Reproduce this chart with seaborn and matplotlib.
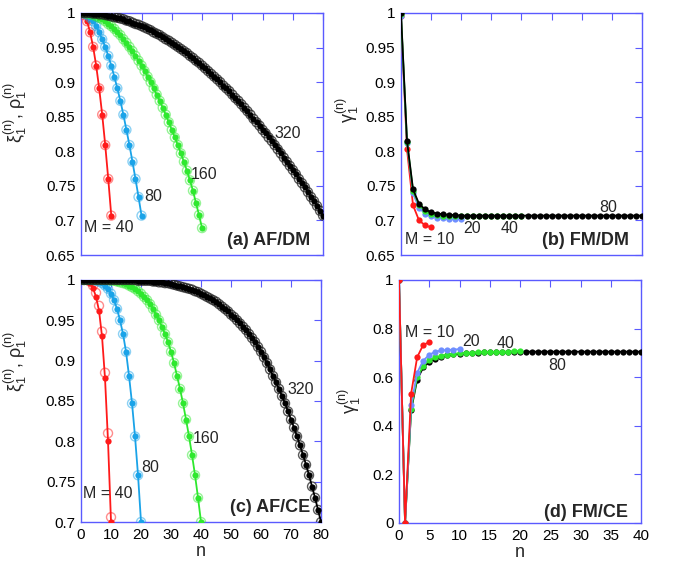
import numpy as np
import matplotlib
matplotlib.use("Agg")
import matplotlib.pyplot as plt
import seaborn as sns

# ---------------- data ----------------
# (a) AF/DM : xi_1^(n) (dots) and rho_1^(n) (open circles)
a_M40 = [1.0, 0.997, 0.988, 0.972, 0.951, 0.924, 0.891, 0.853, 0.809, 0.760, 0.707]
a_M80 = [1.0, 0.999, 0.997, 0.993, 0.988, 0.981, 0.972, 0.962, 0.951, 0.938, 0.924,
         0.908, 0.891, 0.873, 0.853, 0.831, 0.809, 0.785, 0.760, 0.734, 0.707]
a_M160 = [1.0, 1.0, 0.999, 0.998, 0.997, 0.995, 0.993, 0.991, 0.988, 0.984, 0.981,
          0.977, 0.972, 0.968, 0.962, 0.957, 0.951, 0.945, 0.938, 0.931, 0.924,
          0.916, 0.908, 0.900, 0.891, 0.882, 0.873, 0.863, 0.853, 0.842, 0.831,
          0.820, 0.809, 0.797, 0.785, 0.772, 0.758, 0.743, 0.725, 0.708, 0.689]
a_M320 = [1.0, 1.0, 1.0, 1.0, 0.999, 0.999, 0.998, 0.998, 0.997, 0.996, 0.995,
          0.994, 0.993, 0.992, 0.991, 0.989, 0.988, 0.986, 0.984, 0.983, 0.981,
          0.979, 0.977, 0.975, 0.972, 0.970, 0.968, 0.965, 0.962, 0.960, 0.957,
          0.954, 0.951, 0.948, 0.945, 0.942, 0.938, 0.935, 0.931, 0.928, 0.924,
          0.920, 0.916, 0.912, 0.908, 0.904, 0.900, 0.895, 0.891, 0.887, 0.882,
          0.877, 0.873, 0.868, 0.863, 0.858, 0.853, 0.847, 0.842, 0.837, 0.831,
          0.826, 0.820, 0.815, 0.809, 0.803, 0.797, 0.791, 0.785, 0.779, 0.773,
          0.767, 0.760, 0.754, 0.748, 0.741, 0.734, 0.728, 0.721, 0.714, 0.707]

# (b) FM/DM : gamma_1^(n)
b_M10 = [0.995, 0.803, 0.722, 0.700, 0.693, 0.690]
b_M20 = [0.995, 0.812, 0.739, 0.718, 0.710, 0.706, 0.704, 0.703, 0.702, 0.702, 0.702]
b_M40 = [0.998, 0.814, 0.743, 0.722, 0.714, 0.710, 0.708, 0.707, 0.707, 0.706, 0.706,
         0.706, 0.706, 0.706, 0.706, 0.706, 0.706, 0.706, 0.706, 0.706, 0.706]
b_M80 = [1.0, 0.815, 0.745, 0.724, 0.716, 0.712, 0.710, 0.709, 0.708, 0.708, 0.707,
         0.707, 0.707, 0.707, 0.707, 0.707, 0.707, 0.707, 0.707, 0.707, 0.707,
         0.707, 0.707, 0.707, 0.707, 0.707, 0.707, 0.707, 0.707, 0.707, 0.707,
         0.707, 0.707, 0.707, 0.707, 0.707, 0.707, 0.707, 0.707, 0.707, 0.707]

# (c) AF/CE : xi_1^(n) (dots) and rho_1^(n) (open circles)
c_M40_xi = [1.0, 1.0, 0.999, 0.996, 0.990, 0.979, 0.962, 0.930, 0.878, 0.800, 0.700]
c_M40_rho = [1.0, 1.0, 1.0, 0.998, 0.993, 0.984, 0.968, 0.936, 0.885, 0.810, 0.706]
c_M80 = [1.0, 1.0, 1.0, 1.0, 1.0, 0.999, 0.998, 0.996, 0.993, 0.989, 0.983,
         0.975, 0.964, 0.950, 0.933, 0.911, 0.881, 0.847, 0.806, 0.758, 0.700]
c_M160 = [1.0, 1.0, 1.0, 1.0, 1.0, 1.0, 1.0, 1.0, 1.0, 1.0, 0.999,
          0.999, 0.998, 0.997, 0.996, 0.995, 0.993, 0.991, 0.989, 0.986, 0.983,
          0.979, 0.975, 0.970, 0.964, 0.957, 0.950, 0.942, 0.933, 0.923, 0.911,
          0.897, 0.881, 0.865, 0.847, 0.827, 0.806, 0.783, 0.758, 0.730, 0.700]
c_M320 = [1.0, 1.0, 1.0, 1.0, 1.0, 1.0, 1.0, 1.0, 1.0, 1.0, 1.0,
          1.0, 1.0, 1.0, 1.0, 1.0, 1.0, 1.0, 1.0, 0.999, 0.999,
          0.999, 0.999, 0.999, 0.998, 0.998, 0.997, 0.997, 0.996, 0.996, 0.995,
          0.994, 0.993, 0.992, 0.991, 0.990, 0.989, 0.988, 0.986, 0.985, 0.983,
          0.981, 0.979, 0.977, 0.975, 0.973, 0.970, 0.967, 0.964, 0.961, 0.957,
          0.954, 0.950, 0.946, 0.942, 0.938, 0.933, 0.928, 0.923, 0.917, 0.911,
          0.904, 0.897, 0.889, 0.881, 0.873, 0.865, 0.856, 0.847, 0.837, 0.827,
          0.817, 0.806, 0.795, 0.783, 0.771, 0.758, 0.744, 0.730, 0.715, 0.700]

# (d) FM/CE : gamma_1^(n)
d_M10 = [1.0, 0.0, 0.532, 0.682, 0.733, 0.744]
d_M20 = [1.0, 0.0, 0.484, 0.618, 0.668, 0.692, 0.705, 0.710, 0.712, 0.713, 0.716]
d_M40 = [1.0, 0.0, 0.470, 0.600, 0.646, 0.670, 0.681, 0.688, 0.693, 0.696, 0.698,
         0.700, 0.701, 0.702, 0.703, 0.704, 0.704, 0.705, 0.705, 0.706, 0.707]
d_M80 = [1.0, 0.0, 0.463, 0.590, 0.640, 0.663, 0.676, 0.684, 0.690, 0.694, 0.697,
         0.699, 0.700, 0.701, 0.702, 0.703, 0.703, 0.704, 0.704, 0.705, 0.705,
         0.705, 0.705, 0.705, 0.705, 0.705, 0.705, 0.705, 0.705, 0.705, 0.705,
         0.705, 0.705, 0.705, 0.705, 0.705, 0.705, 0.705, 0.705, 0.705, 0.705]

# tick labels
yt_a = [0.65, 0.7, 0.75, 0.8, 0.85, 0.9, 0.95, 1.0]
yl_a = ["0.65", "0.7", "0.75", "0.8", "0.85", "0.9", "0.95", "1"]
yt_c = [0.7, 0.75, 0.8, 0.85, 0.9, 0.95, 1.0]
yl_c = ["0.7", "0.75", "0.8", "0.85", "0.9", "0.95", "1"]
yt_d = [0, 0.2, 0.4, 0.6, 0.8, 1.0]
yl_d = ["0", "0.2", "0.4", "0.6", "0.8", "1"]
xt_80 = [0, 10, 20, 30, 40, 50, 60, 70, 80]
xt_40 = [0, 5, 10, 15, 20, 25, 30, 35, 40]

# ---------------- style ----------------
sns.set_style("white")
plt.rcParams["font.family"] = ["Liberation Sans", "DejaVu Sans"]
plt.rcParams["mathtext.fontset"] = "custom"
plt.rcParams["mathtext.rm"] = "Liberation Sans"
plt.rcParams["mathtext.it"] = "Liberation Sans:italic"
plt.rcParams["mathtext.default"] = "regular"

RED = "#ff1a1a"
SKY = "#1aa3e8"
LBLUE = "#6f8fff"
GREEN = "#2ee82e"
BLACK = "#000000"
SPINE = "#5a5aff"

fig = plt.figure(figsize=(6.78, 5.63), dpi=100)
fig.patch.set_facecolor("white")
ax_a = fig.add_axes([0.1195, 0.547, 0.357, 0.430])
ax_b = fig.add_axes([0.5914, 0.547, 0.3555, 0.430])
ax_c = fig.add_axes([0.1195, 0.0728, 0.354, 0.430])
ax_d = fig.add_axes([0.5885, 0.0711, 0.357, 0.4316])


def dots(ax, vals, col, z, lw=1.3, ms=4.5):
    n = np.arange(len(vals))
    sns.lineplot(x=n, y=vals, ax=ax, color=col, lw=lw, marker="o",
                 markersize=ms, markeredgewidth=0, estimator=None, sort=False,
                 zorder=z)


def rings(ax, vals, col, z, s=42, alpha=0.5):
    n = np.arange(len(vals))
    sns.scatterplot(x=n, y=vals, ax=ax, marker="o", s=s, facecolor="none",
                    edgecolor=col, linewidth=1.0, alpha=alpha, zorder=z)


def style(ax, xmax, xt, ylim, yt, yl, xlabels):
    ax.set_xlim(0, xmax)
    ax.set_ylim(*ylim)
    ax.set_xticks(xt)
    ax.set_yticks(yt)
    ax.set_yticklabels(yl)
    if xlabels:
        ax.set_xticklabels([str(v) for v in xt])
    else:
        ax.set_xticklabels([])
    ax.tick_params(direction="in", top=True, right=True, length=5, width=0.8,
                   color=SPINE, labelsize=11, pad=4, labelcolor="black")
    for sp in ax.spines.values():
        sp.set_color(SPINE)
        sp.set_linewidth(1.0)
        sp.set_visible(True)
    ax.set_facecolor("white")


# (a)
for vals, col, z in [(a_M40, RED, 3), (a_M80, SKY, 4), (a_M160, GREEN, 5)]:
    rings(ax_a, vals, col, z)
    dots(ax_a, vals, col, z + 0.5)
rings(ax_a, a_M320, "#222222", 6, alpha=0.75)
dots(ax_a, a_M320, BLACK, 6.5)
style(ax_a, 80, xt_80, (0.65, 1.0), yt_a, yl_a, False)
ax_a.set_ylabel(r"$\xi_1^{(n)}$, $\rho_1^{(n)}$", fontsize=13)
ax_a.yaxis.set_label_coords(-0.215, 0.59)
ax_a.set_xlabel("")
for txt, x, y in [("M = 40", 1.0, 0.6905), ("80", 20.8, 0.734), ("160", 36.4, 0.766), ("320", 63.8, 0.826)]:
    ax_a.text(x, y, txt, fontsize=11.5, ha="left", va="center", zorder=10)
ax_a.text(0.947, 0.062, "(a) AF/DM", transform=ax_a.transAxes, fontsize=13,
          fontweight="bold", ha="right", va="center", zorder=10)

# (b)
for vals, col, z in [(b_M10, RED, 3), (b_M20, LBLUE, 4), (b_M40, GREEN, 5), (b_M80, BLACK, 6)]:
    dots(ax_b, vals, col, z)
style(ax_b, 40, xt_40, (0.65, 1.0), yt_a, yl_a, False)
ax_b.set_ylabel(r"$\gamma_1^{(n)}$", fontsize=13)
ax_b.yaxis.set_label_coords(-0.165, 0.6)
ax_b.set_xlabel("")
for txt, x, y in [("M = 10", 0.66, 0.673), ("20", 10.3, 0.689), ("40", 16.6, 0.689), ("80", 32.9, 0.719)]:
    ax_b.text(x, y, txt, fontsize=11.5, ha="left", va="center", zorder=10)
ax_b.text(0.947, 0.062, "(b) FM/DM", transform=ax_b.transAxes, fontsize=13,
          fontweight="bold", ha="right", va="center", zorder=10)

# (c)
rings(ax_c, c_M40_rho, RED, 3)
dots(ax_c, c_M40_xi, RED, 3.5)
for vals, col, z in [(c_M80, SKY, 4), (c_M160, GREEN, 5)]:
    rings(ax_c, vals, col, z)
    dots(ax_c, vals, col, z + 0.5)
rings(ax_c, c_M320, "#222222", 6, alpha=0.75)
dots(ax_c, c_M320, BLACK, 6.5)
style(ax_c, 80, xt_80, (0.7, 1.0), yt_c, yl_c, True)
ax_c.set_ylabel(r"$\xi_1^{(n)}$, $\rho_1^{(n)}$", fontsize=13)
ax_c.yaxis.set_label_coords(-0.215, 0.665)
ax_c.set_xlabel("n", fontsize=13, labelpad=1)
for txt, x, y in [("M = 40", 0.7, 0.735), ("80", 20.0, 0.767), ("160", 37.3, 0.804), ("320", 68.7, 0.864)]:
    ax_c.text(x, y, txt, fontsize=11.5, ha="left", va="center", zorder=10)
ax_c.text(0.955, 0.062, "(c) AF/CE", transform=ax_c.transAxes, fontsize=13,
          fontweight="bold", ha="right", va="center", zorder=10)

# (d)
for vals, col, z in [(d_M80, BLACK, 3), (d_M40, GREEN, 4), (d_M20, LBLUE, 5), (d_M10, RED, 6)]:
    dots(ax_d, vals, col, z)
style(ax_d, 40, xt_40, (0.0, 1.0), yt_d, yl_d, True)
ax_d.set_ylabel(r"$\gamma_1^{(n)}$", fontsize=13)
ax_d.yaxis.set_label_coords(-0.15, 0.5)
ax_d.set_xlabel("n", fontsize=13, labelpad=1)
for txt, x, y in [("M = 10", 1.0, 0.782), ("20", 10.4, 0.745), ("40", 16.2, 0.737), ("80", 24.6, 0.65)]:
    ax_d.text(x, y, txt, fontsize=11.5, ha="left", va="center", zorder=10)
ax_d.text(0.947, 0.045, "(d) FM/CE", transform=ax_d.transAxes, fontsize=13,
          fontweight="bold", ha="right", va="center", zorder=10)

for ax in (ax_a, ax_b, ax_c, ax_d):
    leg = ax.get_legend()
    if leg is not None:
        leg.remove()

fig.savefig("out.png", dpi=100, facecolor="white")
